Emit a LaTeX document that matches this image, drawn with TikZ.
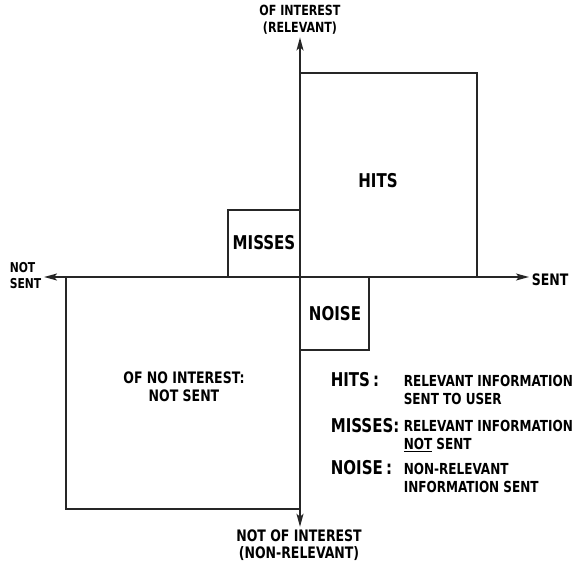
\documentclass[tikz,border=0pt]{standalone}
\usepackage{fontspec}
\setmainfont{DejaVu Sans Condensed}[FakeStretch=0.88]
\usetikzlibrary{arrows.meta}

\begin{document}
\begin{tikzpicture}[x=1pt, y=-1pt, line width=1.6pt, font=\bfseries,
  box/.style={draw=black!85, line width=2.2pt},
  boxlabel/.style={font=\bfseries\fontsize{19}{20}\selectfont},
  axislabel/.style={align=center, inner sep=2pt, font=\bfseries\fontsize{14}{17}\selectfont},
  keyname/.style={anchor=west, inner sep=0pt, font=\bfseries\fontsize{19}{20}\selectfont},
  keytext/.style={anchor=north west, align=left, inner sep=0pt, font=\bfseries\fontsize{15.2}{18}\selectfont},
  axis/.style={draw=black!85, line width=1.6pt, -{Stealth[length=13pt, width=7pt, inset=3pt]}}]
\useasboundingbox (0,0) rectangle (584,568);

\coordinate (o) at (300,277);

% the four regions
\draw[box] (300,73) rectangle (477,277);
\draw[box] (228,210) rectangle (300,277);
\draw[box] (300,277) rectangle (369,350);
\draw[box] (66,277) rectangle (300,509);

\node[boxlabel] (hits) at (378,181) {HITS};
\node[boxlabel] (misses) at (264,243) {MISSES};
\node[boxlabel] (noise) at (335,314) {NOISE};
\node[align=center, font=\bfseries\fontsize{15.8}{18}\selectfont] (nointerest) at (184,387) {OF NO INTEREST:\\NOT SENT};

% axes
\node[axislabel] (up) at (300,20) {OF INTEREST\\(RELEVANT)};
\node[axislabel, font=\bfseries\fontsize{15.8}{17}\selectfont] (down) at (299,545) {NOT OF INTEREST\\(NON-RELEVANT)};
\node[axislabel, align=left, anchor=west, inner sep=0pt, font=\bfseries\fontsize{13.6}{16}\selectfont] (notsent) at (9,276) {NOT\\SENT};
\node[axislabel, anchor=west, inner sep=0pt, font=\bfseries\fontsize{15.8}{16}\selectfont] (sent) at (531,280) {SENT};

\draw[axis] (o) -- (o |- up.south);
\draw[axis] (o) -- (o |- down.north);
\draw[axis, shorten >=2pt] (o) -- (o -| notsent.east);
\draw[axis, shorten >=2pt] (o) -- (o -| sent.west);

% legend
\node[keyname] (khits) at (330,380) {HITS\,:};
\node[keyname] (kmisses) at (330,426) {MISSES:};
\node[keyname] (knoise) at (330,468) {NOISE\,:};
\node[keytext] (thits) at (403,374) {RELEVANT INFORMATION\\SENT TO USER};
\node[keytext] (tmisses) at (403,419) {RELEVANT INFORMATION\\\underline{NOT} SENT};
\node[keytext] (tnoise) at (403,462) {NON-RELEVANT\\INFORMATION SENT};
\end{tikzpicture}
\end{document}
